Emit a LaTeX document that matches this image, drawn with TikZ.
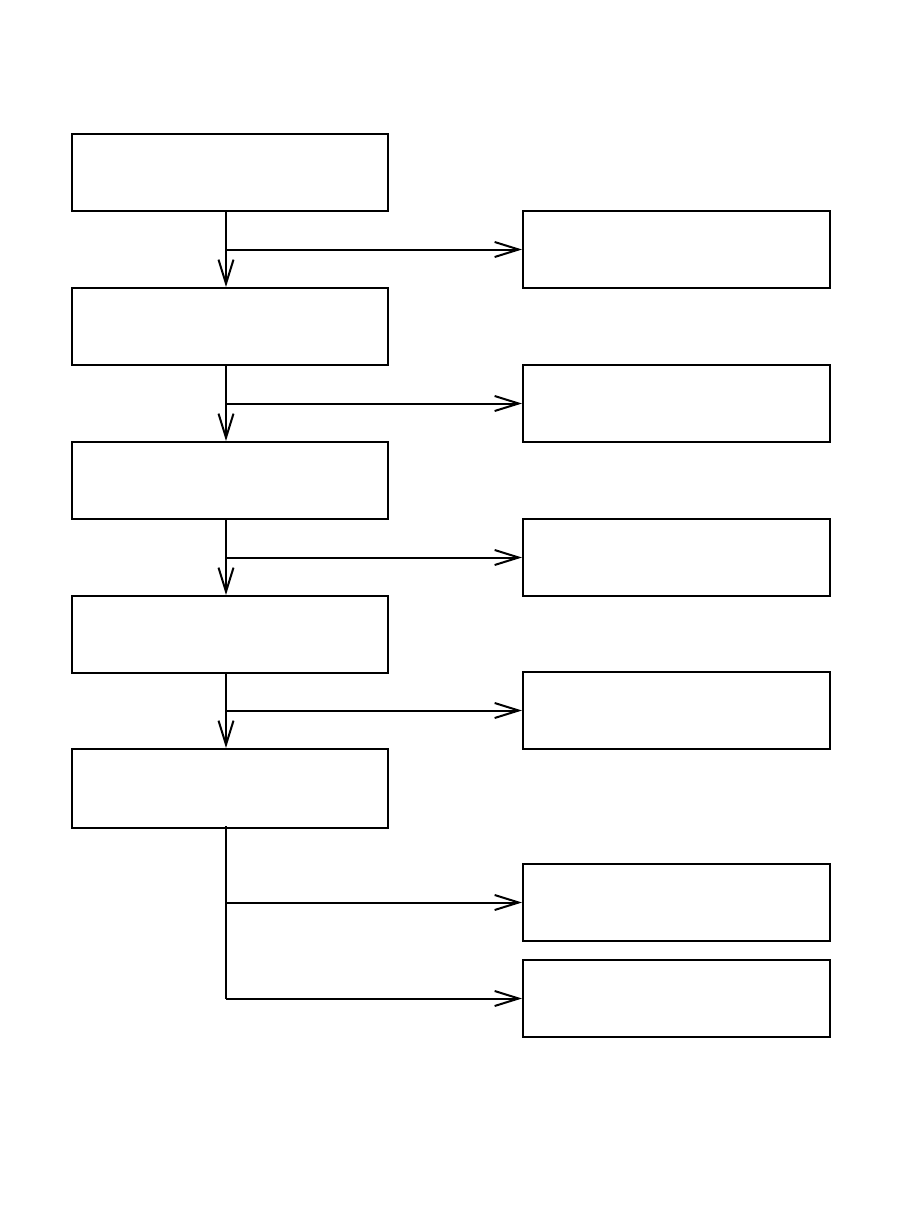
\documentclass[tikz,border=0pt]{standalone}
\usetikzlibrary{arrows.meta}
\begin{document}
\begin{tikzpicture}[x=1pt,y=-1pt,
  box/.style={draw,line width=2pt,minimum width=316pt,minimum height=77pt,inner sep=0pt},
  rbox/.style={draw,line width=2pt,minimum width=307pt,minimum height=77pt,inner sep=0pt},
  arr/.style={line width=2pt,-{Straight Barb[length=24pt,width=15pt,line width=2pt]}},
  ln/.style={line width=2pt}]
\useasboundingbox (0,0) rectangle (897,1209);
\node[box] (L1) at (230,172.5) {};
\node[box] (L2) at (230,326.5) {};
\node[box] (L3) at (230,480.5) {};
\node[box] (L4) at (230,634.5) {};
\node[box,minimum height=79pt] (L5) at (230,788.5) {};
\node[rbox] (R1) at (676.5,249.5) {};
\node[rbox] (R2) at (676.5,403.5) {};
\node[rbox] (R3) at (676.5,557.5) {};
\node[rbox] (R4) at (676.5,710.5) {};
\node[rbox] (R5) at (676.5,902.5) {};
\node[rbox] (R6) at (676.5,998.5) {};
\coordinate (j1) at (226,249.5);
\coordinate (j2) at (226,403.5);
\coordinate (j3) at (226,557.5);
\coordinate (j4) at (226,710.5);
\coordinate (j5) at (226,902.5);
\coordinate (j6) at (226,998.5);
\draw[arr] (j1 |- L1.south) -- (j1 |- L2.north);
\draw[arr] (j1) -- (R1.west);
\draw[arr] (j2 |- L2.south) -- (j2 |- L3.north);
\draw[arr] (j2) -- (R2.west);
\draw[arr] (j3 |- L3.south) -- (j3 |- L4.north);
\draw[arr] (j3) -- (R3.west);
\draw[arr] (j4 |- L4.south) -- (j4 |- L5.north);
\draw[arr] (j4) -- (R4.west);
\draw[ln] ([yshift=3pt]j5 |- L5.south) -- (j6);
\draw[arr] (j5) -- (R5.west);
\draw[arr] (j6) -- (R6.west);
\end{tikzpicture}
\end{document}
